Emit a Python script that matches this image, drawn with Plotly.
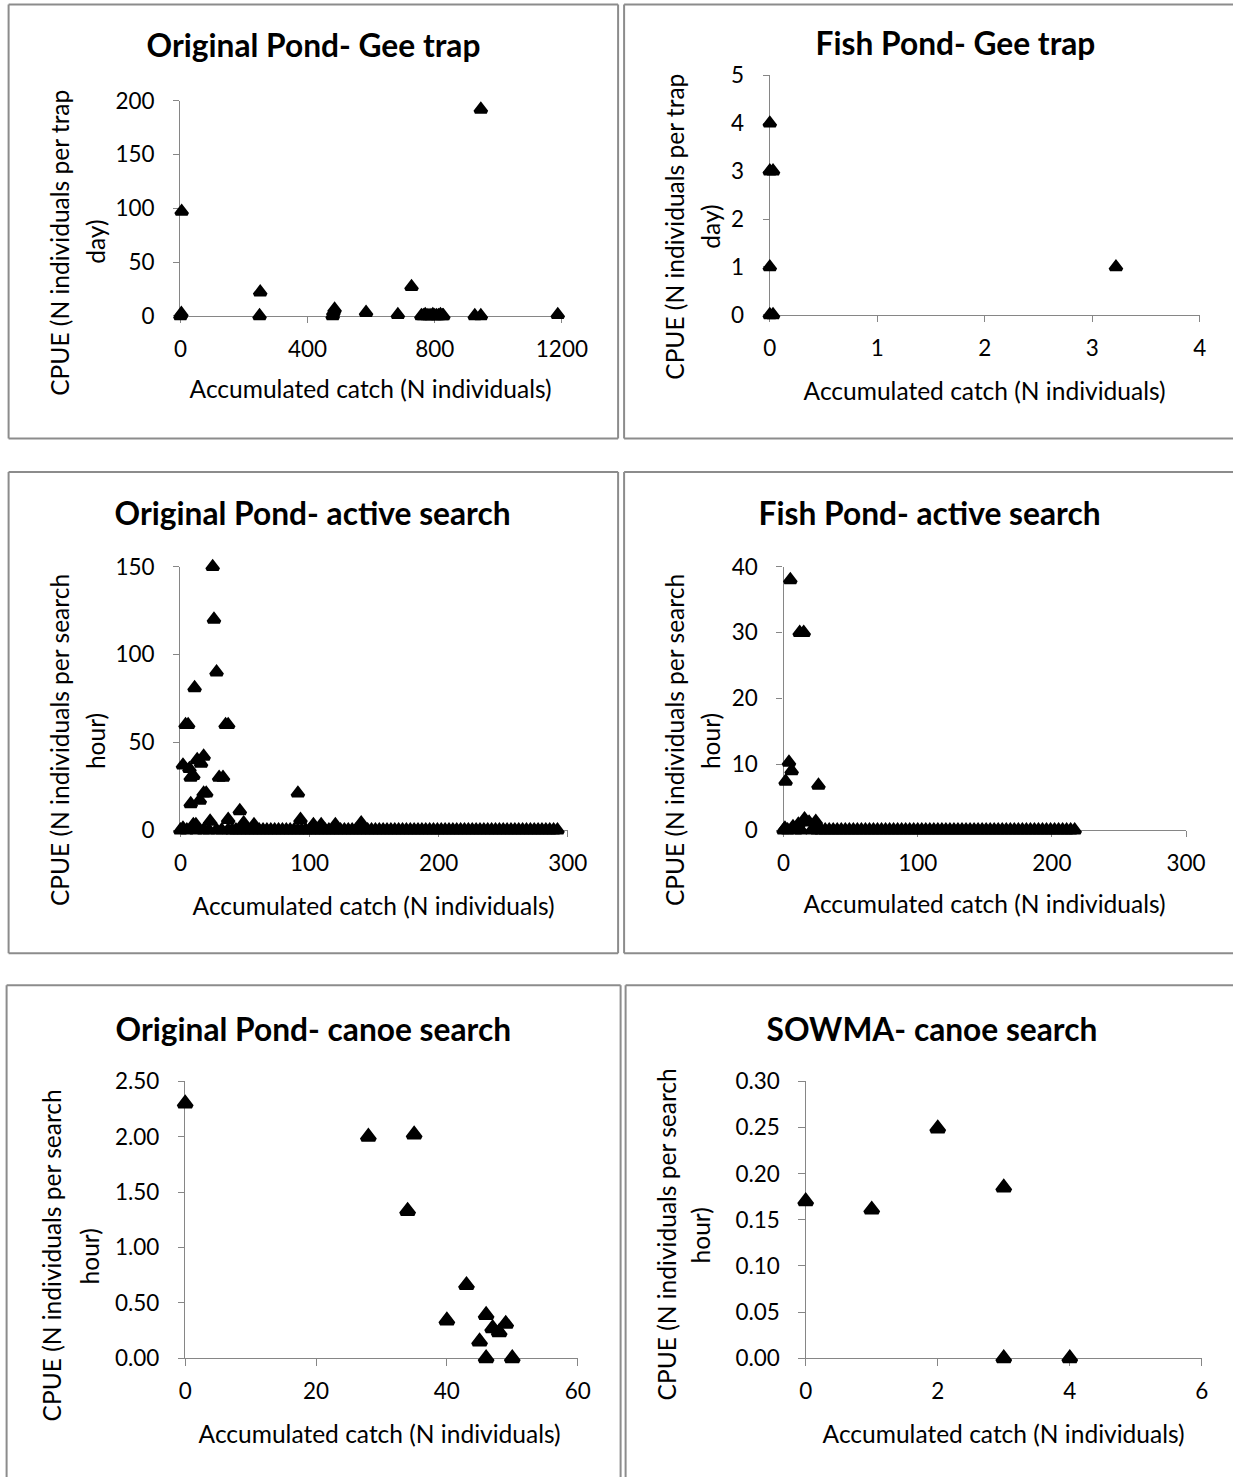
import plotly.graph_objects as go

# Reference canvas (pixels) used for all geometry below
RW, RH = 1233, 1477
# The photographed page shows the figure slightly shrunk and offset; the figure is
# enlarged by that factor and nudged so the photo lines up with the reference canvas.
SX, SY = 1 / 0.974, 1 / 0.9816
W, H = round(RW * SX), round(RH * SY)
K = (SX + SY) / 2

FONT = "Lato"
AXIS_GRAY = "#868686"
BORDER_GRAY = "#8c8c8c"

# ---------------- data ----------------
# Original Pond - Gee trap
op_gee_x = [0, 3, 4, 249, 251, 479, 481, 485, 584, 684, 727, 758, 764, 770, 776, 782, 788, 794,
            800, 806, 812, 818, 824, 827, 926, 945, 945, 1187]
op_gee_y = [0, 2, 97, 0, 22, 0, 3, 6, 3, 1, 27, 0, 0, 1, 0, 0, 0, 1,
            0, 0, 0, 1, 0, 0, 0, 0, 192, 1]

# Fish Pond - Gee trap
fp_gee_x = [0, 0, 0.03, 0, 0, 0.03, 3.22]
fp_gee_y = [4, 3, 3, 1, 0, 0, 1]

# Original Pond - active search
op_act_x = [25, 26, 28, 11, 4, 6, 35, 37, 2, 7, 8, 10, 13, 16, 18, 30, 33, 8, 15, 18,
            20, 91, 46, 2, 10, 12, 23, 37, 49, 57, 93, 103, 109, 120, 140]
op_act_y = [150, 120, 90, 81, 60, 60, 60, 60, 37, 35, 30, 31, 40, 38, 42, 30, 30, 15, 17, 21,
            21, 21, 11, 1, 3, 3, 5, 6, 4, 3, 6, 3, 3, 3, 4]
op_act_zero_x = [0, 5, 12, 18, 22, 28, 32, 37, 40, 43, 46, 49, 52, 55, 58, 61, 64, 67, 70, 73,
                 76, 79, 82, 85, 88, 91, 94, 97, 100, 103, 106, 109, 112, 115, 118, 121, 124,
                 127, 130, 133, 136, 139, 142, 145, 148, 151, 154, 157, 160, 163, 166, 169, 172,
                 175, 178, 181, 184, 187, 190, 193, 196, 199, 202, 205, 208, 211, 214, 217, 220,
                 223, 226, 229, 232, 235, 238, 241, 244, 247, 250, 253, 256, 259, 262, 265, 268,
                 271, 274, 277, 280, 283, 286, 289, 292]
op_act_zero_y = [0] * len(op_act_zero_x)

# Fish Pond - active search
fp_act_x = [5, 12, 15, 4, 6, 1.5, 26, 1, 7, 11, 15.6, 19, 24]
fp_act_y = [38, 30, 30, 10.3, 9, 7.4, 6.8, 0.3, 0.5, 0.9, 1.7, 1.2, 1.3]
fp_act_zero_x = [0, 3, 9, 13, 21, 25, 28, 31, 34, 37, 40, 43, 46, 49, 52, 55, 58, 61, 64, 67,
                 70, 73, 76, 79, 82, 85, 88, 91, 94, 97, 100, 103, 106, 109, 112, 115, 118,
                 121, 124, 127, 130, 133, 136, 139, 142, 145, 148, 151, 154, 157, 160, 163,
                 166, 169, 172, 175, 178, 181, 184, 187, 190, 193, 196, 199, 202, 205, 208,
                 211, 214, 217]
fp_act_zero_y = [0] * len(fp_act_zero_x)

# Original Pond - canoe search
op_canoe_x = [0, 28, 35, 34, 43, 40, 46, 45, 47, 48, 49, 46, 50]
op_canoe_y = [2.30, 2.00, 2.02, 1.33, 0.66, 0.34, 0.39, 0.15, 0.27, 0.235, 0.31, 0, 0]

# SOWMA - canoe search
sowma_x = [0, 1, 2, 3, 3, 4]
sowma_y = [0.17, 0.161, 0.249, 0.185, 0, 0]

# tick values / labels
p1_xt = [0, 400, 800, 1200]; p1_yt = [0, 50, 100, 150, 200]
p2_xt = [0, 1, 2, 3, 4];     p2_yt = [0, 1, 2, 3, 4, 5]
p3_xt = [0, 100, 200, 300];  p3_yt = [0, 50, 100, 150]
p4_xt = [0, 100, 200, 300];  p4_yt = [0, 10, 20, 30, 40]
p5_xt = [0, 20, 40, 60];     p5_yt = [0, 0.5, 1.0, 1.5, 2.0, 2.5]
p5_ytext = ["0.00", "0.50", "1.00", "1.50", "2.00", "2.50"]
p6_xt = [0, 2, 4, 6];        p6_yt = [0, 0.05, 0.10, 0.15, 0.20, 0.25, 0.30]
p6_ytext = ["0.00", "0.05", "0.10", "0.15", "0.20", "0.25", "0.30"]

titles = ["Original Pond- Gee trap", "Fish Pond- Gee trap",
          "Original Pond- active search", "Fish Pond- active search",
          "Original Pond- canoe search", "SOWMA- canoe search"]
xtitle = "Accumulated catch (N individuals)"
ytitles = [["CPUE (N individuals per trap", "day)"],
           ["CPUE (N individuals per trap", "day)"],
           ["CPUE (N individuals per search", "hour)"],
           ["CPUE (N individuals per search", "hour)"],
           ["CPUE (N individuals per search", "hour)"],
           ["CPUE (N individuals per search", "hour)"]]

# ---------------- layout (reference-pixel geometry) ----------------
panels = [
    dict(series=[(op_gee_x, op_gee_y)], xr=[0, 1200], yr=[0, 200], xt=p1_xt, yt=p1_yt, ytext=None,
         px=(179.8, 561.3), py=(101, 316), title=(313, 45), xtl=(370, 388),
         ytl=[(59, 243), (95, 242)], msize=10, mline=3.5),
    dict(series=[(fp_gee_x, fp_gee_y)], xr=[0, 4], yr=[0, 5], xt=p2_xt, yt=p2_yt, ytext=None,
         px=(769.2, 1199.2), py=(75.7, 315), title=(955, 43), xtl=(984, 390),
         ytl=[(674, 227), (710, 227)], msize=10, mline=3.5),
    dict(series=[(op_act_zero_x, op_act_zero_y), (op_act_x, op_act_y)], xr=[0, 300], yr=[0, 150],
         xt=p3_xt, yt=p3_yt, ytext=None,
         px=(179.8, 567.2), py=(566.7, 830), title=(312, 513), xtl=(373, 905),
         ytl=[(59, 740), (95, 741)], msize=10, mline=3.5),
    dict(series=[(fp_act_zero_x, fp_act_zero_y), (fp_act_x, fp_act_y)], xr=[0, 300], yr=[0, 40],
         xt=p4_xt, yt=p4_yt, ytext=None,
         px=(783, 1185.4), py=(566.7, 830), title=(929, 513), xtl=(984, 903),
         ytl=[(674, 740), (710, 741)], msize=10, mline=3.5),
    dict(series=[(op_canoe_x, op_canoe_y)], xr=[0, 60], yr=[0, 2.5], xt=p5_xt, yt=p5_yt,
         ytext=p5_ytext,
         px=(184.6, 577.1), py=(1081, 1357.7), title=(312, 1028), xtl=(379, 1433),
         ytl=[(51, 1255), (89, 1256)], msize=11.5, mline=4),
    dict(series=[(sowma_x, sowma_y)], xr=[0, 6], yr=[0, 0.3], xt=p6_xt, yt=p6_yt,
         ytext=p6_ytext,
         px=(805.1, 1201.2), py=(1081, 1357.7), title=(931, 1028), xtl=(1003, 1433),
         ytl=[(666, 1234), (700, 1235)], msize=11.5, mline=4),
]

border_segments = [
    # row 1
    (8, 5, 617.5, 5), (8, 438.5, 617.5, 438.5), (8, 5, 8, 438.5), (617.5, 5, 617.5, 438.5),
    (623.5, 5, 1233, 5), (623.5, 438.5, 1233, 438.5), (623.5, 5, 623.5, 438.5),
    # row 2
    (8, 472, 617.5, 472), (8, 953, 617.5, 953), (8, 472, 8, 953), (617.5, 472, 617.5, 953),
    (623.5, 472, 1233, 472), (623.5, 953, 1233, 953), (623.5, 472, 623.5, 953),
    # row 3 (runs off the bottom)
    (6, 985, 620, 985), (6, 985, 6, 1477), (620, 985, 620, 1477),
    (625, 985, 1233, 985), (625, 985, 625, 1477),
]


def fx(p):
    return p / RW


def fy(p):
    return 1 - p / RH


fig = go.Figure()
annotations = []
shapes = []
layout_axes = {}

for i, pnl in enumerate(panels, start=1):
    sfx = "" if i == 1 else str(i)
    for (sx, sy) in pnl["series"]:
        fig.add_trace(go.Scatter(
            x=sx, y=sy, mode="markers", xaxis="x" + sfx, yaxis="y" + sfx,
            cliponaxis=False, showlegend=False,
            marker=dict(symbol="triangle-up", size=pnl["msize"] * K, color="black",
                        line=dict(color="black", width=pnl["mline"] * K)),
        ))
    common = dict(showgrid=False, zeroline=False, showline=True, linecolor=AXIS_GRAY,
                  linewidth=1.3, ticks="outside", ticklen=6 * K, tickwidth=1.3,
                  tickcolor=AXIS_GRAY, fixedrange=True, layer="below traces",
                  tickfont=dict(family=FONT, size=22 * K, color="black"))
    layout_axes["xaxis" + sfx] = dict(
        common, domain=[fx(pnl["px"][0]), fx(pnl["px"][1])], range=pnl["xr"],
        anchor="y" + sfx, tickvals=pnl["xt"], ticklabelstandoff=7)
    ya = dict(common, domain=[fy(pnl["py"][1]), fy(pnl["py"][0])], range=pnl["yr"],
              anchor="x" + sfx, tickvals=pnl["yt"], ticklabelstandoff=14)
    if pnl["ytext"] is not None:
        ya["ticktext"] = pnl["ytext"]
    layout_axes["yaxis" + sfx] = ya

    tx, ty = pnl["title"]
    annotations.append(dict(text="<b>" + titles[i - 1] + "</b>", x=fx(tx), y=fy(ty),
                            xref="paper", yref="paper", showarrow=False,
                            xanchor="center", yanchor="middle",
                            font=dict(family=FONT, size=31 * K, color="black")))
    ax_, ay_ = pnl["xtl"]
    annotations.append(dict(text=xtitle, x=fx(ax_), y=fy(ay_), xref="paper", yref="paper",
                            showarrow=False, xanchor="center", yanchor="middle",
                            font=dict(family=FONT, size=24 * K, color="black")))
    for (lx, ly), line in zip(pnl["ytl"], ytitles[i - 1]):
        annotations.append(dict(text=line, x=fx(lx), y=fy(ly), xref="paper", yref="paper",
                                showarrow=False, xanchor="center", yanchor="middle",
                                textangle=-90,
                                font=dict(family=FONT, size=24 * K, color="black")))

for (x0, y0, x1, y1) in border_segments:
    shapes.append(dict(type="line", xref="paper", yref="paper",
                       x0=fx(x0), x1=fx(x1), y0=fy(y0), y1=fy(y1),
                       line=dict(color=BORDER_GRAY, width=2)))

fig.update_layout(
    width=W, height=H, margin=dict(l=0, r=0, t=0, b=0),
    paper_bgcolor="white", plot_bgcolor="white",
    annotations=annotations, shapes=shapes, showlegend=False,
    **layout_axes,
)

fig.write_html(
    "out.html", config={"displayModeBar": False},
    post_script=("document.body.style.margin='0';"
                 "document.body.style.overflow='hidden';"
                 "var gd=document.getElementById('{plot_id}');"
                 "gd.style.transform='translate(-6.4px,-14.4px)';"),
)
